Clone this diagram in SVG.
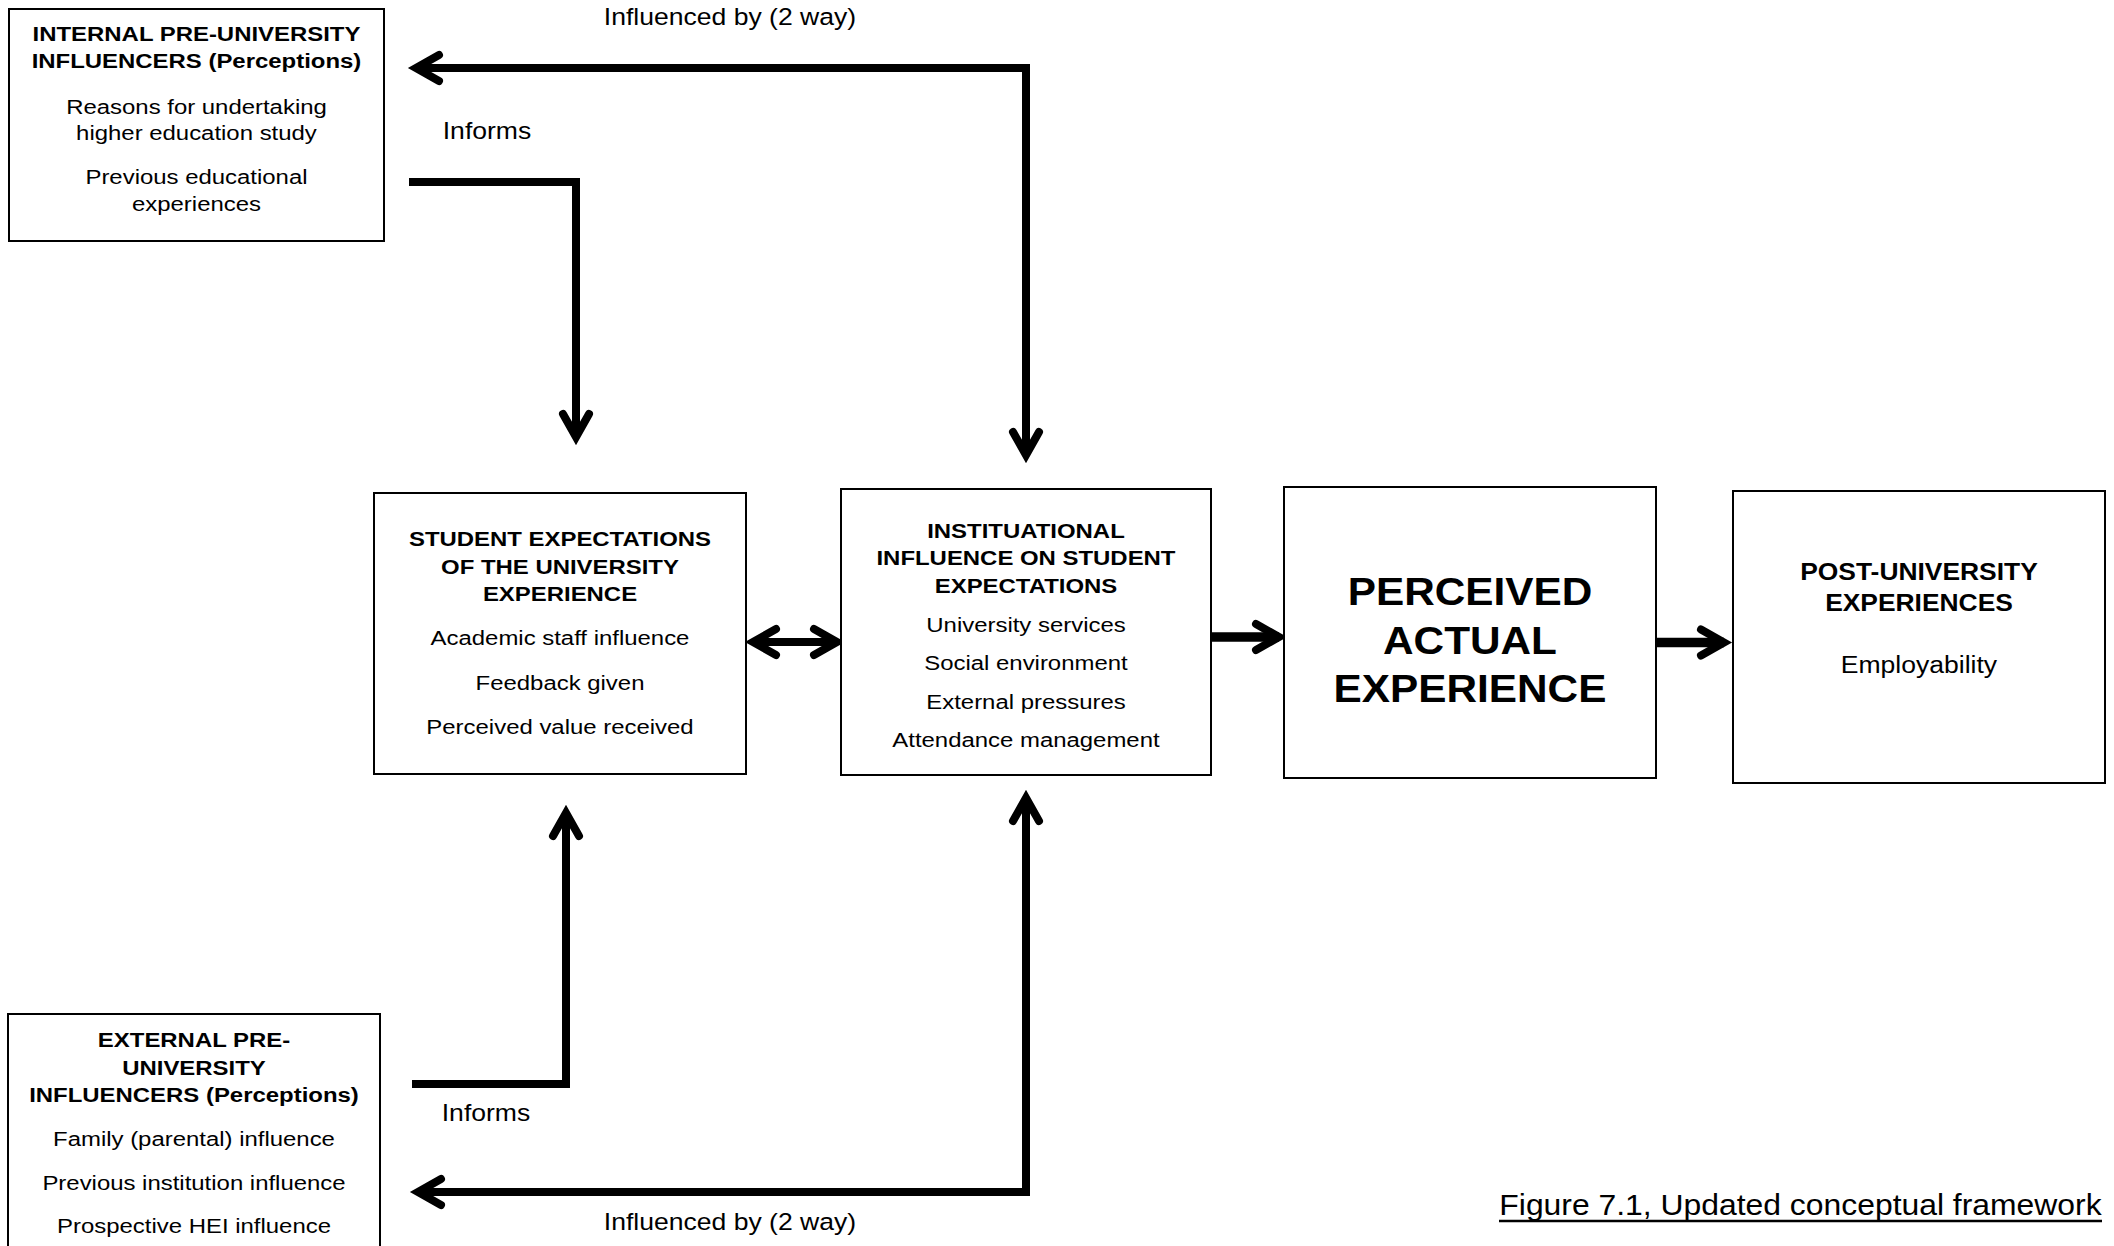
<svg xmlns="http://www.w3.org/2000/svg" width="2114" height="1246" viewBox="0 0 2114 1246">
  <style>
    text { font-family: "Liberation Sans", Arial, sans-serif; fill: #000; text-anchor: middle;
           transform-box: fill-box; transform-origin: center; }
    .box { fill: #fff; stroke: #000; stroke-width: 2; }
    .s { font-size: 21px; transform: scaleX(1.14); }
    .b { font-weight: bold; }
    .lab { font-size: 23.3px; transform: scaleX(1.14); }
    .big { font-size: 39px; font-weight: bold; transform: scaleX(1.085); }
    .post { font-size: 24px; font-weight: bold; transform: scaleX(1.1); }
    .emp { font-size: 23.5px; transform: scaleX(1.13); }
    .cap { font-size: 30px; transform: scaleX(1.063); }
    .conn { fill: none; stroke: #000; stroke-width: 8; stroke-linejoin: miter; stroke-linecap: butt; }
    .thick { stroke-width: 9.5; }
  </style>
  <defs>
    <!-- open chevron head; the line ends 8px behind the tip -->
    <marker id="head" markerUnits="userSpaceOnUse" viewBox="-45 -25 50 50" markerWidth="50" markerHeight="50"
            refX="-8" refY="0" orient="auto-start-reverse" overflow="visible">
      <path d="M-31,-13 L-8,0 L-31,13" fill="none" stroke="#000" stroke-width="8"
            stroke-linejoin="miter" stroke-linecap="round"/>
    </marker>
  </defs>

  <rect width="2114" height="1246" fill="#fff"/>

  <!-- connectors -->
  <g id="connectors">
    <path class="conn" d="M416,68 L1026,68 L1026,455" marker-start="url(#head)" marker-end="url(#head)"/>
    <path class="conn" d="M409,182 L576,182 L576,437" marker-end="url(#head)"/>
    <path class="conn" d="M412,1084 L566,1084 L566,813" marker-end="url(#head)"/>
    <path class="conn" d="M418,1192 L1026,1192 L1026,798" marker-start="url(#head)" marker-end="url(#head)"/>
    <path class="conn" d="M753,642 L837,642" marker-start="url(#head)" marker-end="url(#head)"/>
    <path class="conn thick" d="M1211,637 L1279,637" marker-end="url(#head)"/>
    <path class="conn thick" d="M1657,642.5 L1724,642.5" marker-end="url(#head)"/>
  </g>

  <!-- connector labels -->
  <g id="labels">
    <text class="lab" x="730" y="25">Influenced by (2 way)</text>
    <text class="lab" x="487" y="139.3">Informs</text>
    <text class="lab" x="486" y="1121.5">Informs</text>
    <text class="lab" x="730" y="1230">Influenced by (2 way)</text>
  </g>

  <g id="internal-influencers">
    <rect class="box" x="9" y="9" width="375" height="232"/>
    <text class="s b" x="196.5" y="41">INTERNAL PRE-UNIVERSITY</text>
    <text class="s b" x="196.5" y="68.5">INFLUENCERS (Perceptions)</text>
    <text class="s" x="196.5" y="114">Reasons for undertaking</text>
    <text class="s" x="196.5" y="140.5">higher education study</text>
    <text class="s" x="196.5" y="184">Previous educational</text>
    <text class="s" x="196.5" y="211">experiences</text>
  </g>

  <g id="student-expectations">
    <rect class="box" x="374" y="493" width="372" height="281"/>
    <text class="s b" x="560" y="546.5">STUDENT EXPECTATIONS</text>
    <text class="s b" x="560" y="574">OF THE UNIVERSITY</text>
    <text class="s b" x="560" y="601.5">EXPERIENCE</text>
    <text class="s" x="560" y="645.5">Academic staff influence</text>
    <text class="s" x="560" y="690">Feedback given</text>
    <text class="s" x="560" y="734">Perceived value received</text>
  </g>

  <g id="institutional-influence">
    <rect class="box" x="841" y="489" width="370" height="286"/>
    <text class="s b" x="1026" y="538">INSTITUATIONAL</text>
    <text class="s b" x="1026" y="565.5">INFLUENCE ON STUDENT</text>
    <text class="s b" x="1026" y="593">EXPECTATIONS</text>
    <text class="s" x="1026" y="632">University services</text>
    <text class="s" x="1026" y="670">Social environment</text>
    <text class="s" x="1026" y="709">External pressures</text>
    <text class="s" x="1026" y="747.5">Attendance management</text>
  </g>

  <g id="perceived-actual-experience">
    <rect class="box" x="1284" y="487" width="372" height="291"/>
    <text class="big" x="1470" y="605">PERCEIVED</text>
    <text class="big" x="1470" y="654">ACTUAL</text>
    <text class="big" x="1470" y="702">EXPERIENCE</text>
  </g>

  <g id="post-university">
    <rect class="box" x="1733" y="491" width="372" height="292"/>
    <text class="post" x="1919" y="580.5">POST-UNIVERSITY</text>
    <text class="post" x="1919" y="611.5">EXPERIENCES</text>
    <text class="emp" x="1919" y="673">Employability</text>
  </g>

  <g id="external-influencers">
    <rect class="box" x="8" y="1014" width="372" height="240"/>
    <text class="s b" x="194" y="1047">EXTERNAL PRE-</text>
    <text class="s b" x="194" y="1075">UNIVERSITY</text>
    <text class="s b" x="194" y="1102.5">INFLUENCERS (Perceptions)</text>
    <text class="s" x="194" y="1146.5">Family (parental) influence</text>
    <text class="s" x="194" y="1190">Previous institution influence</text>
    <text class="s" x="194" y="1233">Prospective HEI influence</text>
  </g>

  <g id="caption">
    <text class="cap" x="1800.5" y="1215">Figure 7.1, Updated conceptual framework</text>
    <line x1="1499" y1="1221" x2="2102" y2="1221" stroke="#000" stroke-width="2.5"/>
  </g>
</svg>
